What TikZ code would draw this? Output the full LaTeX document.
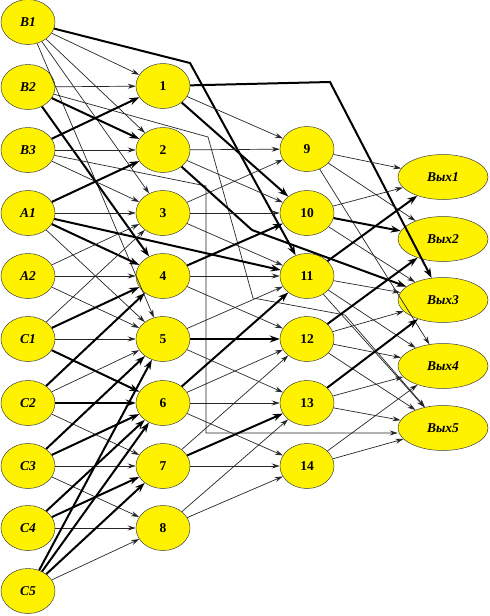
\documentclass[tikz,border=0pt]{standalone}
\usepackage{fontspec}
\setmainfont{Liberation Serif}
\usetikzlibrary{arrows.meta,shapes.geometric}
\begin{document}
\begin{tikzpicture}[x=1pt,y=-1pt,>={Stealth[length=8pt,width=5pt]},
  unit/.style={ellipse,draw=black!75,fill=yellow,line width=0.5pt,minimum width=54pt,minimum height=45pt,inner sep=0pt,font=\bfseries\itshape\fontsize{13.5}{15}\selectfont},
  mid/.style={unit,font=\bfseries\fontsize{13.5}{15}\selectfont},
  exit/.style={unit,minimum width=90pt},
  wire/.style={->,line width=0.7pt,black!85},
  heavy/.style={->,line width=2pt,black,>={Stealth[length=10pt,width=7pt]}}]
\useasboundingbox (0,0) rectangle (490,616);

\node[unit] (b1) at (28,22) {B1};
\node[unit] (b2) at (28,87) {B2};
\node[unit] (b3) at (28,150) {B3};
\node[unit] (a1) at (28,213) {A1};
\node[unit] (a2) at (28,276) {A2};
\node[unit] (c1) at (28,339) {C1};
\node[unit] (c2) at (28,403) {C2};
\node[unit] (c3) at (28,466) {C3};
\node[unit] (c4) at (28,528) {C4};
\node[unit] (c5) at (28,591) {C5};

\node[mid] (n1) at (163,86) {1};
\node[mid] (n2) at (163,150) {2};
\node[mid] (n3) at (163,213) {3};
\node[mid] (n4) at (163,276) {4};
\node[mid] (n5) at (163,339) {5};
\node[mid] (n6) at (163,403) {6};
\node[mid] (n7) at (163,466) {7};
\node[mid] (n8) at (163,528) {8};

\node[mid] (n9) at (307,149) {9};
\node[mid] (n10) at (307,213) {10};
\node[mid] (n11) at (307,276) {11};
\node[mid] (n12) at (307,339) {12};
\node[mid] (n13) at (307,403) {13};
\node[mid] (n14) at (307,466) {14};

\node[exit] (v1) at (443,177) {Вых1};
\node[exit] (v2) at (443,239) {Вых2};
\node[exit] (v3) at (443,300) {Вых3};
\node[exit] (v4) at (443,366) {Вых4};
\node[exit] (v5) at (443,428) {Вых5};

% bends of the long links
\coordinate (kb1) at (190,63);
\coordinate (kn1) at (330,82);
\coordinate (kn2) at (252,230);
\coordinate (kb2a) at (208,137);
\coordinate (kb2b) at (253,298);
\coordinate (kb2c) at (345,315);
\coordinate (kb3a) at (206,186);
\coordinate (kb3b) at (206,433);

% inputs to first layer
\draw[wire] (b1) -- (n1);
\draw[wire] (b1) -- (n2);
\draw[wire] (b1) -- (n3);
\draw[wire] (b1) -- (n5);
\draw[heavy] (b1) -- (kb1) -- (n11);
\draw[wire] (b2) -- (n1);
\draw[heavy] (b2) -- (n2);
\draw[heavy] (b2) -- (n4);
\draw[wire] (b2) -- (kb2a) -- (kb2b) -- (kb2c) -- (v5);
\draw[heavy] (b3) -- (n1);
\draw[wire] (b3) -- (n2);
\draw[wire] (b3) -- (n3);
\draw[wire] (b3) -- (kb3a) -- (kb3b) -- (v5.west |- kb3b);
\draw[heavy] (a1) -- (n2);
\draw[wire] (a1) -- (n3);
\draw[heavy] (a1) -- (n4);
\draw[wire] (a1) -- (n5);
\draw[heavy] (a1) -- (n11);
\draw[wire] (a2) -- (n3);
\draw[wire] (a2) -- (n4);
\draw[wire] (a2) -- (n5);
\draw[wire] (c1) -- (n3);
\draw[heavy] (c1) -- (n4);
\draw[wire] (c1) -- (n5);
\draw[heavy] (c1) -- (n6);
\draw[heavy] (c2) -- (n4);
\draw[wire] (c2) -- (n5);
\draw[heavy] (c2) -- (n6);
\draw[wire] (c2) -- (n7);
\draw[heavy] (c3) -- (n5);
\draw[heavy] (c3) -- (n6);
\draw[wire] (c3) -- (n7);
\draw[wire] (c3) -- (n8);
\draw[heavy] (c4) -- (n6);
\draw[heavy] (c4) -- (n7);
\draw[wire] (c4) -- (n8);
\draw[heavy] (c5) -- (n5);
\draw[heavy] (c5) -- (n6);
\draw[heavy] (c5) -- (n7);
\draw[wire] (c5) -- (n8);

% first layer to second layer
\draw[wire] (n1) -- (n9);
\draw[heavy] (n1) -- (n10);
\draw[heavy] (n1) -- (kn1) -- (v3);
\draw[wire] (n2) -- (n9);
\draw[wire] (n2) -- (n10);
\draw[heavy] (n2) -- (kn2) -- (v3);
\draw[wire] (n3) -- (n9);
\draw[wire] (n3) -- (n10);
\draw[wire] (n3) -- (n11);
\draw[heavy] (n4) -- (n10);
\draw[wire] (n4) -- (n11);
\draw[wire] (n4) -- (n12);
\draw[wire] (n5) -- (n11);
\draw[heavy] (n5) -- (n12);
\draw[wire] (n5) -- (n13);
\draw[heavy] (n6) -- (n11);
\draw[wire] (n6) -- (n12);
\draw[wire] (n6) -- (n13);
\draw[wire] (n6) -- (n14);
\draw[wire] (n7) -- (n12);
\draw[heavy] (n7) -- (n13);
\draw[wire] (n7) -- (n14);
\draw[wire] (n8) -- (n13);
\draw[wire] (n8) -- (n14);

% second layer to outputs
\draw[wire] (n9) -- (v1);
\draw[wire] (n9) -- (v2);
\draw[wire] (n9) -- (v4);
\draw[wire] (n10) -- (v1);
\draw[heavy] (n10) -- (v2);
\draw[wire] (n10) -- (v3);
\draw[heavy] (n11) -- (v1);
\draw[wire] (n11) -- (v3);
\draw[wire] (n11) -- (v4);
\draw[wire] (n11) -- (v5);
\draw[heavy] (n12) -- (v2);
\draw[wire] (n12) -- (v3);
\draw[wire] (n12) -- (v4);
\draw[wire] (n12) -- (v5);
\draw[heavy] (n13) -- (v3);
\draw[wire] (n13) -- (v4);
\draw[wire] (n13) -- (v5);
\draw[wire] (n14) -- (v4);
\draw[wire] (n14) -- (v5);
\end{tikzpicture}
\end{document}
